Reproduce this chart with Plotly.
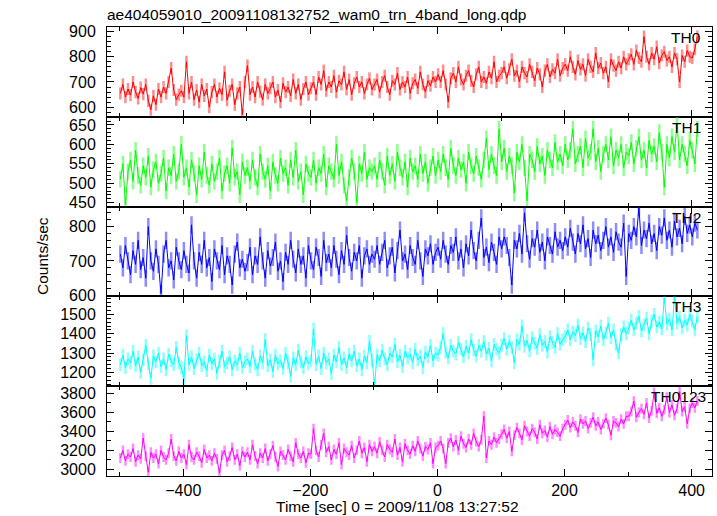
import plotly.graph_objects as go
from plotly.subplots import make_subplots

# time binning (seconds from 2009/11/08 13:27:52)
t_start = -499.0
t_step = 4.0

th0 = [655, 690, 640, 672, 648, 700, 660, 635, 678, 652, 690, 625, 590, 645, 610, 672, 640, 680, 655, 700, 755, 668, 630, 650, 665,
       640, 780, 655, 700, 630, 668, 620, 690, 645, 672, 600, 660, 690, 640, 675, 650, 740, 628, 665, 690, 610, 655, 680, 570, 700,
       765, 650, 680, 640, 700, 662, 630, 690, 655, 675, 700, 640, 668, 620, 695, 660, 680, 645, 710, 655, 690, 630, 672, 700, 650,
       675, 700, 650, 720, 690, 745, 665, 700, 680, 725, 660, 705, 690, 740, 670, 710, 650, 695, 720, 680, 700, 655, 690, 715, 670,
       690, 710, 660, 700, 725, 680, 650, 705, 690, 735, 670, 700, 680, 720, 655, 695, 710, 675, 740, 690, 660, 705, 685, 720, 700,
       730, 700, 745, 690, 620, 715, 735, 700, 760, 710, 690, 725, 745, 705, 680, 730, 760, 700, 720, 695, 740, 715, 780, 700, 725,
       735, 760, 715, 750, 790, 725, 745, 700, 760, 735, 720, 770, 740, 705, 755, 730, 680, 745, 770, 720, 750, 735, 790, 725, 755,
       770, 745, 800, 760, 730, 785, 750, 770, 725, 790, 760, 740, 815, 755, 775, 735, 760, 700, 790, 765, 745, 780, 755, 800, 770,
       790, 810, 770, 825, 795, 780, 880, 800, 770, 815, 790, 840, 775, 805, 820, 785, 800, 760, 815, 790, 700, 805, 780, 825, 800,
       795, 830, 880]

th1 = [510, 550, 445, 530, 560, 505, 585, 520, 495, 545, 515, 570, 490, 535, 555, 500, 525, 565, 480, 540, 520, 575, 505, 530, 600,
       515, 540, 490, 560, 525, 470, 545, 510, 580, 520, 495, 550, 505, 530, 565, 480, 525, 545, 500, 590, 515, 530, 470, 555, 520,
       540, 505, 560, 515, 490, 575, 530, 510, 545, 480, 555, 520, 500, 565, 525, 540, 495, 560, 515, 585, 505, 530, 470, 550, 525,
       515, 560, 500, 540, 525, 575, 490, 545, 530, 510, 600, 520, 555, 495, 455, 515, 565, 530, 450, 550, 525, 580, 510, 540, 530,
       545, 510, 560, 530, 495, 570, 520, 550, 505, 580, 540, 515, 555, 490, 565, 530, 545, 510, 575, 525, 555, 500, 540, 570, 520,
       560, 530, 575, 540, 510, 590, 545, 520, 565, 535, 555, 500, 580, 545, 525, 570, 540, 510, 560, 615, 535, 575, 545, 520, 640,
       555, 590, 530, 570, 545, 475, 580, 555, 600, 540, 455, 575, 560, 530, 595, 550, 570, 520, 585, 560, 540, 605, 555, 575, 545,
       600, 560, 585, 640, 550, 575, 595, 540, 615, 565, 580, 640, 555, 590, 530, 575, 600, 560, 620, 545, 585, 565, 600, 540, 580,
       570, 605, 550, 590, 620, 560, 585, 540, 610, 575, 595, 555, 630, 580, 490, 600, 565, 620, 580, 655, 560, 600, 575, 545, 610,
       585, 550, 640]

th2 = [720, 680, 745, 700, 660, 730, 690, 760, 675, 710, 650, 800, 700, 670, 735, 690, 605, 720, 760, 680, 700, 645, 740, 700, 675,
       730, 690, 665, 805, 700, 650, 725, 690, 760, 680, 710, 640, 735, 700, 675, 745, 660, 715, 690, 630, 720, 755, 680, 705, 670,
       695, 740, 660, 715, 690, 770, 700, 650, 730, 685, 710, 755, 670, 700, 640, 725, 690, 760, 705, 665, 735, 690, 715, 650, 745,
       700, 675, 740, 710, 655, 760, 695, 720, 680, 745, 705, 660, 730, 690, 775, 710, 670, 725, 700, 745, 650, 715, 735, 690, 720,
       705, 745, 690, 725, 760, 680, 715, 740, 665, 730, 790, 700, 720, 675, 745, 710, 690, 760, 700, 655, 735, 715, 750, 690, 725,
       740, 705, 760, 720, 690, 745, 725, 770, 700, 735, 680, 750, 715, 790, 730, 700, 760, 825, 710, 740, 695, 755, 725, 690, 770,
       735, 770, 745, 710, 630, 760, 735, 780, 720, 840, 750, 705, 765, 740, 790, 725, 755, 700, 770, 745, 720, 785, 740, 760, 730,
       770, 740, 795, 755, 720, 780, 750, 805, 735, 765, 710, 790, 750, 775, 730, 760, 800, 740, 770, 725, 785, 755, 740, 810, 655,
       780, 760, 800, 770, 855, 745, 790, 765, 810, 750, 780, 730, 800, 775, 825, 760, 790, 740, 815, 770, 795, 750, 830, 780, 805,
       770, 810, 790]

th3 = [1240, 1290, 1225, 1270, 1250, 1310, 1235, 1280, 1200, 1265, 1340, 1245, 1170, 1285, 1255, 1300, 1230, 1270, 1215, 1295, 1260, 1240, 1330, 1250, 1225,
       1165, 1390, 1240, 1280, 1220, 1265, 1300, 1235, 1255, 1210, 1290, 1245, 1270, 1195, 1260, 1310, 1230, 1250, 1280, 1215, 1260, 1240, 1300, 1225, 1255,
       1270, 1230, 1310, 1245, 1215, 1285, 1250, 1370, 1235, 1265, 1205, 1290, 1245, 1260, 1220, 1300, 1250, 1180, 1275, 1240, 1315, 1255, 1225, 1280, 1245,
       1260, 1425, 1240, 1285, 1220, 1300, 1250, 1270, 1195, 1290, 1255, 1330, 1240, 1275, 1225, 1295, 1260, 1310, 1235, 1270, 1215, 1285, 1250, 1360, 1265,
       1135, 1290, 1260, 1315, 1270, 1240, 1300, 1280, 1345, 1255, 1290, 1230, 1310, 1275, 1295, 1250, 1320, 1265, 1285, 1225, 1305, 1280, 1340, 1260, 1300,
       1290, 1330, 1400, 1305, 1275, 1340, 1310, 1295, 1355, 1320, 1280, 1335, 1300, 1370, 1315, 1285, 1340, 1310, 1360, 1295, 1325, 1260, 1345, 1320, 1300,
       1340, 1375, 1320, 1360, 1330, 1250, 1370, 1345, 1440, 1335, 1365, 1310, 1380, 1350, 1325, 1395, 1340, 1360, 1305, 1385, 1355, 1330, 1400, 1345, 1370,
       1385, 1420, 1370, 1410, 1390, 1445, 1375, 1405, 1360, 1430, 1395, 1265, 1415, 1385, 1440, 1370, 1405, 1455, 1380, 1420, 1345, 1300, 1395, 1435, 1400,
       1430, 1470, 1420, 1455, 1490, 1415, 1445, 1480, 1400, 1465, 1500, 1435, 1460, 1425, 1585, 1450, 1475, 1420, 1590, 1455, 1485, 1430, 1470, 1445, 1500,
       1465, 1420, 1490]

th0123 = [3120, 3200, 3090, 3160, 3130, 3220, 3080, 3150, 3110, 3330, 3140, 2970, 3180, 3120, 3160, 3060, 3200, 3130, 3100, 3170, 3320, 3140, 3090, 3190, 3120,
          3160, 3050, 3260, 3130, 3100, 3180, 3140, 3070, 3210, 3120, 3150, 3090, 3170, 3110, 2960, 3150, 3200, 3080, 3140, 3230, 3100, 3160, 3040, 3190, 3130,
          3180, 3100, 3260, 3140, 3060, 3170, 3120, 3220, 3090, 3160, 3250, 3130, 3030, 3190, 3150, 3100, 3210, 3140, 3080, 3280, 3160, 3120, 3190, 3070, 3170,
          3160, 3430, 3200, 3130, 3260, 3380, 3180, 3240, 3100, 3210, 3160, 3280, 3050, 3220, 3180, 3150, 3250, 3120, 3200, 3300, 3170, 3230, 3080, 3260, 3190,
          3240, 3170, 3290, 3200, 3130, 3260, 3210, 3180, 3320, 3150, 3230, 3080, 3270, 3200, 3160, 3250, 3190, 3300, 3220, 3140, 3240, 3210, 3280, 3060, 3230,
          3250, 3300, 3220, 3060, 3280, 3330, 3240, 3310, 3200, 3350, 3270, 3230, 3320, 3260, 3380, 3290, 3240, 3310, 3560, 3120, 3300, 3260, 3340, 3280, 3320,
          3370, 3420, 3330, 3400, 3190, 3360, 3440, 3380, 3310, 3460, 3400, 3350, 3430, 3390, 3320, 3470, 3380, 3410, 3340, 3450, 3370, 3420, 3390, 3350, 3430,
          3470, 3520, 3440, 3500, 3460, 3390, 3530, 3480, 3510, 3430, 3490, 3550, 3460, 3500, 3420, 3480, 3540, 3470, 3360, 3510, 3490, 3450, 3530, 3480, 3560,
          3560, 3610, 3720, 3550, 3600, 3640, 3580, 3700, 3540, 3620, 3810, 3590, 3650, 3560, 3630, 3760, 3600, 3680, 3570, 3640, 3820, 3610, 3660, 3480, 3640,
          3700, 3650, 3720]

band_names = ["TH0", "TH1", "TH2", "TH3", "TH0123"]
band_values = [th0, th1, th2, th3, th0123]
band_errors = [24, 21, 25, 33, 52]

colors = ["#ff0000", "#00ff00", "#0000ff", "#00ffff", "#ff00ff"]
err_colors = ["rgba(255,0,0,0.45)", "rgba(0,255,0,0.45)", "rgba(0,0,255,0.45)",
              "rgba(0,255,255,0.45)", "rgba(255,0,255,0.45)"]
y_ranges = [[562, 918], [440, 671], [597, 858], [1129, 1593], [2930, 3877]]
y_dticks = [100, 50, 100, 100, 200]
y_minor = [20, 10, 20, 20, 100]
label_x = [0.985, 0.985, 0.985, 0.985, 0.993]

FONT = "Liberation Sans, Arial, Helvetica, sans-serif"

fig = make_subplots(rows=5, cols=1, shared_xaxes=True, vertical_spacing=0)

for i, (vals, c, ec, err) in enumerate(zip(band_values, colors, err_colors, band_errors)):
    t = [t_start + t_step * k for k in range(len(vals))]
    fig.add_trace(go.Scatter(
        x=t, y=vals, mode="lines",
        line=dict(color=c, width=1),
        error_y=dict(type="constant", value=err, color=ec, thickness=2.5, width=0),
        hoverinfo="skip", showlegend=False), row=i + 1, col=1)
    fig.update_yaxes(
        range=y_ranges[i], dtick=y_dticks[i], tick0=0,
        ticks="inside", ticklen=7, tickwidth=1, tickcolor="black",
        showline=True, linecolor="black", linewidth=1, mirror="ticks",
        showgrid=False, zeroline=False,
        minor=dict(dtick=y_minor[i], ticks="inside", ticklen=4, tickwidth=1,
                   tickcolor="black", showgrid=False),
        tickfont=dict(family=FONT, size=16, color="black"),
        ticklabelstandoff=7,
        row=i + 1, col=1)
    fig.update_xaxes(
        range=[-520, 432], dtick=200, tick0=0,
        ticks="inside", ticklen=7, tickwidth=1, tickcolor="black",
        showline=True, linecolor="black", linewidth=1, mirror="ticks",
        showgrid=False, zeroline=False,
        minor=dict(dtick=100, ticks="inside", ticklen=4, tickwidth=1,
                   tickcolor="black", showgrid=False),
        tickfont=dict(family=FONT, size=16, color="black"),
        ticklabelstandoff=0,
        row=i + 1, col=1)
    yname = "y" if i == 0 else f"y{i + 1}"
    fig.add_annotation(
        text=band_names[i], xref="paper", x=label_x[i], xanchor="right",
        yref=f"{yname} domain", y=1 - 10.5 / 89.8, yanchor="middle",
        showarrow=False, font=dict(family=FONT, size=15.5, color="black"))

fig.add_annotation(
    text="Time [sec] 0 = 2009/11/08 13:27:52", xref="paper", yref="paper",
    x=0.480, y=-0.0684, xanchor="center", yanchor="middle", showarrow=False,
    font=dict(family=FONT, size=15.5, color="black"))
fig.add_annotation(
    text="Counts/sec", xref="paper", yref="paper", textangle=-90,
    x=-0.1058, y=0.49, xanchor="center", yanchor="middle", showarrow=False,
    font=dict(family=FONT, size=15.5, color="black"))

fig.update_layout(
    width=717, height=516,
    margin=dict(l=107, r=5, t=27, b=40),
    paper_bgcolor="white", plot_bgcolor="white",
    title=dict(text="ae404059010_20091108132752_wam0_trn_4band_long.qdp",
               x=107 / 717, xanchor="left", xref="container",
               y=1 - 15 / 516, yanchor="middle", yref="container",
               font=dict(family=FONT, size=15.5, color="black")),
)

fig.write_html("out.html", config={"displayModeBar": False},
               post_script="document.body.style.margin='0';document.body.style.overflow='hidden';")
